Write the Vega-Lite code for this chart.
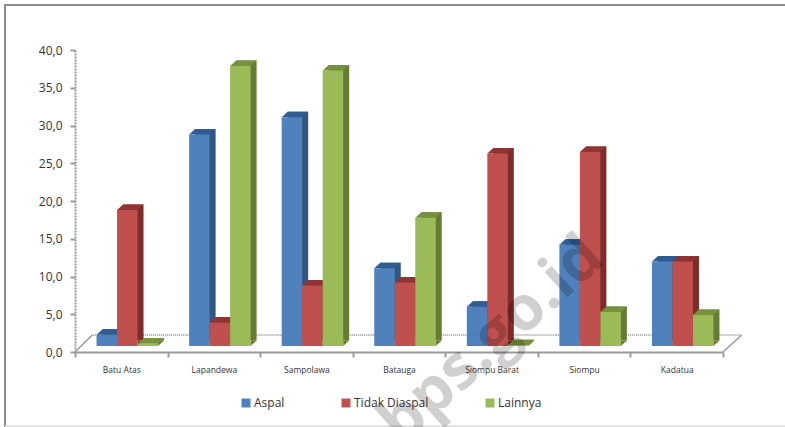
{
  "$schema": "https://vega.github.io/schema/vega-lite/v6.json",
  "width": 785,
  "height": 426,
  "padding": {"left": 5, "top": 5, "right": 0, "bottom": 0},
  "autosize": {"type": "none"},
  "background": "white",
  "view": {"stroke": "#8c8c8c", "strokeWidth": 2, "fill": "white"},
  "config": {
    "font": "Open Sans",
    "axis": {"labelColor": "#333333", "domainColor": "#9a9a9a", "tickColor": "#9a9a9a", "grid": false}
  },
  "datasets": {
    "roads": [
      {"kecamatan": "Batu  Atas", "jenis": "Aspal", "persen": 1.5},
      {"kecamatan": "Batu  Atas", "jenis": "Tidak Diaspal", "persen": 18.0},
      {"kecamatan": "Batu  Atas", "jenis": "Lainnya", "persen": 0.3},
      {"kecamatan": "Lapandewa", "jenis": "Aspal", "persen": 28.0},
      {"kecamatan": "Lapandewa", "jenis": "Tidak Diaspal", "persen": 3.1},
      {"kecamatan": "Lapandewa", "jenis": "Lainnya", "persen": 37.1},
      {"kecamatan": "Sampolawa", "jenis": "Aspal", "persen": 30.3},
      {"kecamatan": "Sampolawa", "jenis": "Tidak Diaspal", "persen": 8.0},
      {"kecamatan": "Sampolawa", "jenis": "Lainnya", "persen": 36.5},
      {"kecamatan": "Batauga", "jenis": "Aspal", "persen": 10.3},
      {"kecamatan": "Batauga", "jenis": "Tidak Diaspal", "persen": 8.4},
      {"kecamatan": "Batauga", "jenis": "Lainnya", "persen": 17.0},
      {"kecamatan": "Siompu Barat", "jenis": "Aspal", "persen": 5.2},
      {"kecamatan": "Siompu Barat", "jenis": "Tidak Diaspal", "persen": 25.5},
      {"kecamatan": "Siompu Barat", "jenis": "Lainnya", "persen": 0.1},
      {"kecamatan": "Siompu", "jenis": "Aspal", "persen": 13.4},
      {"kecamatan": "Siompu", "jenis": "Tidak Diaspal", "persen": 25.7},
      {"kecamatan": "Siompu", "jenis": "Lainnya", "persen": 4.5},
      {"kecamatan": "Kadatua", "jenis": "Aspal", "persen": 11.2},
      {"kecamatan": "Kadatua", "jenis": "Tidak Diaspal", "persen": 11.2},
      {"kecamatan": "Kadatua", "jenis": "Lainnya", "persen": 4.1}
    ]
  },
  "data": {"name": "roads"},
  "encoding": {
    "x": {
      "field": "kecamatan",
      "type": "nominal",
      "sort": null,
      "title": null,
      "scale": {"range": [70, 718], "paddingInner": 0, "paddingOuter": 0},
      "axis": {"labelAngle": 0, "labelFontSize": 8.5, "labelPadding": 8, "ticks": true, "tickBand": "extent", "tickSize": 5, "domainWidth": 2, "tickWidth": 2, "offset": -79}
    },
    "y": {
      "type": "quantitative",
      "scale": {"domain": [0, 40], "range": [347, 45], "nice": false}
    },
    "xOffset": {
      "field": "jenis",
      "type": "nominal",
      "sort": ["Aspal", "Tidak Diaspal", "Lainnya"],
      "scale": {"type": "band", "range": [0, 92.57], "paddingInner": 0, "paddingOuter": 0.758}
    }
  },
  "layer": [
    {
      "mark": {"type": "rule", "color": "#e4e4e4", "strokeWidth": 1},
      "encoding": {"x": null, "xOffset": null, "y": {"datum": -9.75}}
    },
    {
      "mark": {"type": "bar", "fill": null, "stroke": "#9a9a9a", "strokeWidth": 1.5, "strokeDash": [1, 1], "xOffset": 18, "x2Offset": 18, "yOffset": -17, "y2Offset": -17},
      "transform": [{"filter": "datum.jenis === 'Aspal'"}],
      "encoding": {
        "xOffset": null,
        "y": {"datum": 0, "type": "quantitative", "axis": {"title": null, "values": [0, 5, 10, 15, 20, 25, 30, 35, 40], "labelExpr": "replace(format(datum.value, '.1f'), '.', ',')", "labelFontSize": 12, "labelPadding": 8, "tickSize": 5, "tickWidth": 2, "domainWidth": 2, "domainDash": [2, 1], "offset": -70}},
        "y2": {"datum": 0}
      }
    },
    {
      "mark": {"type": "point", "filled": false, "opacity": 1, "size": 4, "stroke": "#9a9a9a", "strokeWidth": 1.5, "shape": "M-46.3 0 L-29 -17"},
      "transform": [{"filter": "datum.kecamatan === 'Batu  Atas' && datum.jenis === 'Aspal'"}],
      "encoding": {"xOffset": null, "y": {"datum": 0}}
    },
    {
      "mark": {"type": "point", "filled": false, "opacity": 1, "size": 4, "stroke": "#9a9a9a", "strokeWidth": 1.5, "shape": "M46.3 0 L65 -17"},
      "transform": [{"filter": "datum.kecamatan === 'Kadatua' && datum.jenis === 'Aspal'"}],
      "encoding": {"xOffset": null, "y": {"datum": 0}}
    },
    {
      "mark": {"type": "bar", "yOffset": -11.5, "y2Offset": -11.5},
      "encoding": {
        "xOffset": {"field": "jenis", "type": "nominal", "sort": ["Aspal", "Tidak Diaspal", "Lainnya"], "scale": {"type": "band", "range": [12, 104.57], "paddingInner": 0, "paddingOuter": 0.758}},
        "y": {"field": "persen"},
        "color": {"field": "jenis", "type": "nominal", "legend": null, "sort": ["Aspal", "Tidak Diaspal", "Lainnya"], "scale": {"domain": ["Aspal", "Tidak Diaspal", "Lainnya"], "range": ["#33567f", "#7e2c2a", "#657c35"]}}
      }
    },
    {
      "mark": {"type": "point", "filled": true, "opacity": 1, "size": 4, "strokeWidth": 0, "shape": "M16.25 -6 L16.25 -11.5 L22.25 -11.5 Z"},
      "encoding": {
        "y": {"datum": 0},
        "color": {"field": "jenis", "type": "nominal", "legend": null, "sort": ["Aspal", "Tidak Diaspal", "Lainnya"], "scale": {"domain": ["Aspal", "Tidak Diaspal", "Lainnya"], "range": ["#33567f", "#7e2c2a", "#657c35"]}}
      }
    },
    {
      "mark": {"type": "point", "filled": true, "opacity": 1, "size": 4, "strokeWidth": 0, "shape": "M-4.25 -6 L16.25 -6 L22.25 -11.5 L1.75 -11.5 Z"},
      "encoding": {
        "y": {"field": "persen"},
        "color": {"field": "jenis", "type": "nominal", "legend": null, "sort": ["Aspal", "Tidak Diaspal", "Lainnya"], "scale": {"domain": ["Aspal", "Tidak Diaspal", "Lainnya"], "range": ["#2f5c93", "#8f3432", "#76923c"]}}
      }
    },
    {
      "mark": {"type": "bar", "yOffset": -6, "y2Offset": -6},
      "encoding": {
        "xOffset": {"field": "jenis", "type": "nominal", "sort": ["Aspal", "Tidak Diaspal", "Lainnya"], "scale": {"type": "band", "range": [6, 98.57], "paddingInner": 0, "paddingOuter": 0.758}},
        "y": {"field": "persen"},
        "color": {
          "field": "jenis",
          "type": "nominal",
          "sort": ["Aspal", "Tidak Diaspal", "Lainnya"],
          "scale": {"domain": ["Aspal", "Tidak Diaspal", "Lainnya"], "range": ["#4f81bd", "#c0504d", "#9bbb59"]},
          "legend": {"title": null, "orient": "none", "legendX": 235, "legendY": 392, "direction": "horizontal", "symbolType": "square", "symbolSize": 80, "labelFontSize": 12, "labelColor": "#333333", "columnPadding": 55, "labelOffset": 2}
        }
      }
    },
    {
      "mark": {"type": "text", "text": "bps.go.id", "font": "Open Sans", "fontWeight": "bold", "fontSize": 62, "angle": -42, "fill": "#000000", "opacity": 0.18, "align": "center", "baseline": "middle"},
      "transform": [{"filter": "datum.kecamatan === 'Siompu Barat' && datum.jenis === 'Aspal'"}],
      "encoding": {"xOffset": null, "y": {"datum": 1.6}}
    }
  ],
  "resolve": {"scale": {"color": "independent", "xOffset": "independent"}}
}
